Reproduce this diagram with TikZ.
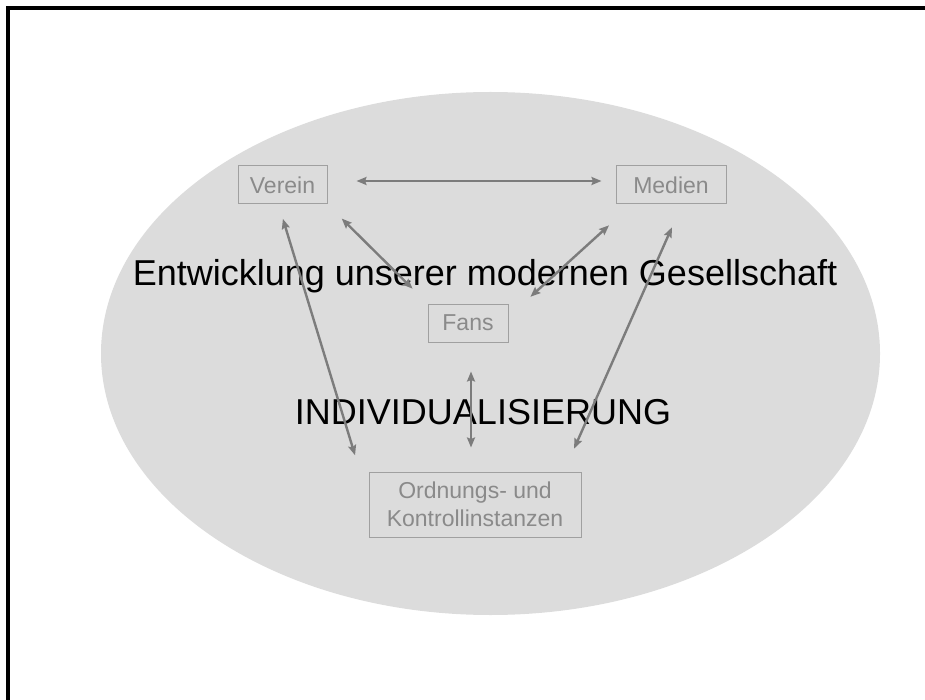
\documentclass[tikz,border=0pt]{standalone}
\usepackage{fontspec}
\setmainfont{Liberation Sans}
\usepackage{tikz}
\usetikzlibrary{arrows.meta}

\definecolor{ovalgray}{HTML}{DCDCDC}
\definecolor{boxgray}{HTML}{A0A0A0}
\definecolor{textgray}{HTML}{8A8A8A}
\definecolor{arrowgray}{HTML}{7C7C7C}

\begin{document}
\begin{tikzpicture}[x=1pt, y=-1pt,
    box/.style={draw=boxgray, line width=1pt, text=textgray, inner sep=0pt,
      minimum height=38pt, font=\fontsize{23}{28}\selectfont},
    big/.style={anchor=base, inner sep=0pt, font=\fontsize{36}{43}\selectfont},
    link/.style={draw=arrowgray, line width=2.4pt,
      {Stealth[length=10pt, width=8pt, inset=1.5pt]}-{Stealth[length=10pt, width=8pt, inset=1.5pt]}}]
  \useasboundingbox (0, 0) rectangle (925, 700);
  \draw[line width=4pt] (8, 700) -- (8, 8) -- (925, 8);
  \fill[ovalgray] (490.5, 353.5) ellipse [x radius=389.5, y radius=261.5];
  \node (dev) at (485, 285) [big] {Entwicklung unserer modernen Gesellschaft};
  \node (indiv) at (483, 424) [big] {INDIVIDUALISIERUNG};
  \node (verein) at (282.5, 185) [box, minimum width=89pt] {Verein};
  \node (medien) at (671, 185) [box, minimum width=110pt] {Medien};
  \node (fans) at (468, 323) [box, minimum width=80pt] {Fans};
  \node (ordnung) at (475, 504.5) [box, minimum width=212pt, minimum height=65pt,
    align=center] {Ordnungs- und\\Kontrollinstanzen};
  \draw[link, shorten <=29pt, shorten >=14pt] ([yshift=4pt]verein.east) -- ([yshift=4pt]medien.west);
  \draw[link, shorten <=20pt, shorten >=21pt] (verein.south east) -- (fans.north west);
  \draw[link, shorten <=31pt, shorten >=10pt] ([xshift=-39pt]medien.south) -- ([xshift=55pt]fans.north);
  \draw[link, shorten <=15pt, shorten >=17pt] ([xshift=-4pt]verein.south) -- ([xshift=-115pt]ordnung.north);
  \draw[link, shorten <=25pt, shorten >=25pt] ([xshift=11pt]medien.south) -- ([xshift=89pt]ordnung.north);
  \draw[link, shorten <=29pt, shorten >=24pt] ([xshift=3pt]fans.south) -- ([xshift=-4pt]ordnung.north);
\end{tikzpicture}
\end{document}
